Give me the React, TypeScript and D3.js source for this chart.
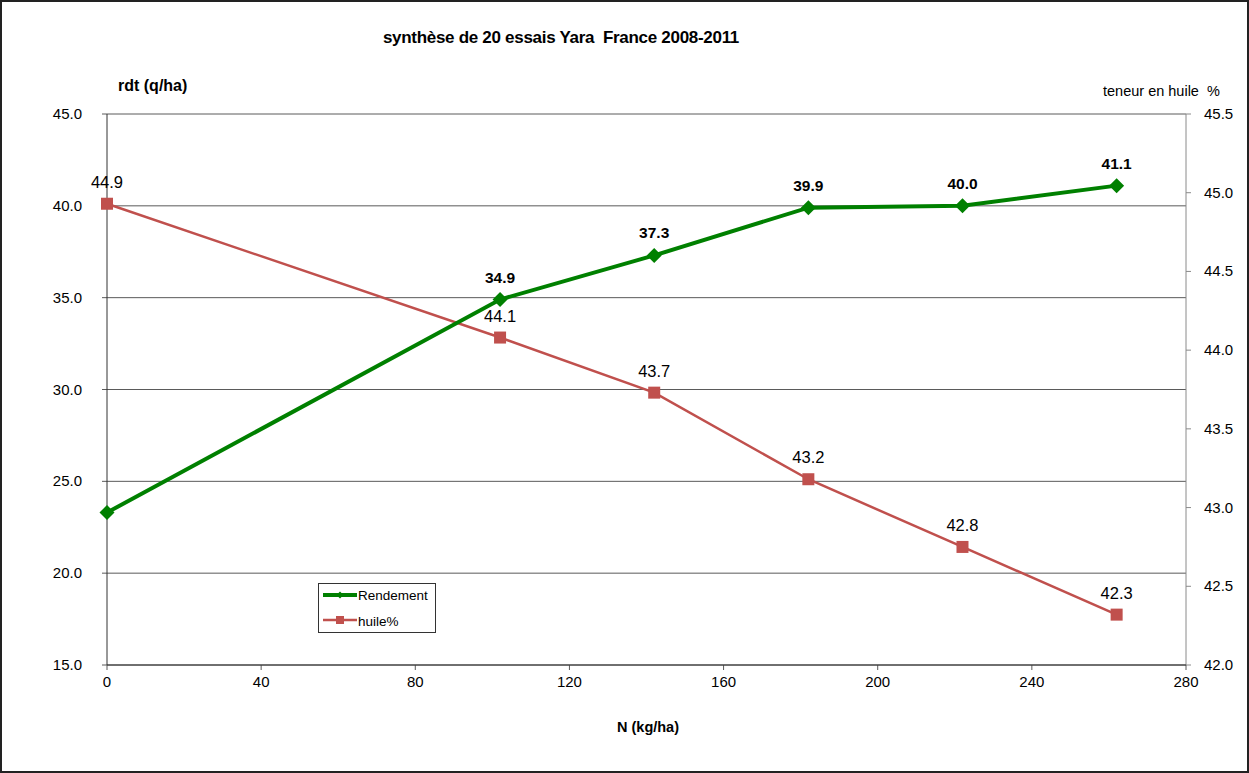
import React from "react";
import * as d3 from "d3";

const nValues = [0, 102, 142, 182, 222, 262];
const rendement = [23.3, 34.9, 37.3, 39.9, 40.0, 41.1];
const rendementLabels = ["", "34.9", "37.3", "39.9", "40.0", "41.1"];
const huile = [44.93, 44.08, 43.73, 43.18, 42.75, 42.32];
const huileLabels = ["44.9", "44.1", "43.7", "43.2", "42.8", "42.3"];
const xTicks = [0, 40, 80, 120, 160, 200, 240, 280];
const yLeftTicks = [15, 20, 25, 30, 35, 40, 45];
const yRightTicks = [42.0, 42.5, 43.0, 43.5, 44.0, 44.5, 45.0, 45.5];

const W = 1249, H = 773;
const L = 107, R = 1186, T = 114, B = 665;
const font = "Liberation Sans, Arial, sans-serif";

export default function App() {
  const x = d3.scaleLinear().domain([0, 280]).range([L, R]);
  const yL = d3.scaleLinear().domain([15, 45]).range([B, T]);
  const yR = d3.scaleLinear().domain([42, 45.5]).range([B, T]);
  const lineG = d3.line<number>().x((_, i) => x(nValues[i])).y((d) => yL(d));
  const lineR = d3.line<number>().x((_, i) => x(nValues[i])).y((d) => yR(d));
  const green = "#008000";
  const red = "#C0504D";
  const pre = { whiteSpace: "pre" as const };
  return (
    <svg width={W} height={H} style={{ position: "absolute", left: 0, top: 0 }} fontFamily={font}>
      <rect x={1} y={1} width={W - 2} height={H - 2} fill="#fff" stroke="#222" strokeWidth={2} />
      {yLeftTicks.map((t) => (
        <g key={"gl" + t}>
          <line x1={L} x2={R} y1={yL(t)} y2={yL(t)} stroke="#5a5a5a" strokeWidth={1} />
          <line x1={L - 5} x2={L} y1={yL(t)} y2={yL(t)} stroke="#5a5a5a" />
          <text x={L - 25} y={yL(t) + 5} textAnchor="end" fontSize={15}>{t.toFixed(1)}</text>
        </g>
      ))}
      {yRightTicks.map((t) => (
        <g key={"gr" + t}>
          <line x1={R} x2={R + 5} y1={yR(t)} y2={yR(t)} stroke="#8a8a8a" />
          <text x={R + 18} y={yR(t) + 5} textAnchor="start" fontSize={15}>{t.toFixed(1)}</text>
        </g>
      ))}
      {xTicks.map((t) => (
        <g key={"x" + t}>
          <line x1={x(t)} x2={x(t)} y1={B} y2={B + 5} stroke="#5a5a5a" />
          <text x={x(t)} y={B + 22} textAnchor="middle" fontSize={15}>{t}</text>
        </g>
      ))}
      <line x1={L} x2={L} y1={T} y2={B} stroke="#333" />
      <line x1={R} x2={R} y1={T} y2={B} stroke="#8a8a8a" />
      <line x1={L} x2={R} y1={B} y2={B} stroke="#333" />

      <path d={lineR(huile) || ""} fill="none" stroke={red} strokeWidth={2.5} />
      {huile.map((v, i) => (
        <rect key={"rs" + i} x={x(nValues[i]) - 6} y={yR(v) - 6} width={12} height={12} fill={red} />
      ))}
      <path d={lineG(rendement) || ""} fill="none" stroke={green} strokeWidth={4} />
      {rendement.map((v, i) => (
        <path key={"gd" + i} d="M0,-7.5L7.5,0L0,7.5L-7.5,0Z" transform={`translate(${x(nValues[i])},${yL(v)})`} fill={green} />
      ))}
      {huile.map((v, i) => (
        <text key={"rl" + i} x={x(nValues[i])} y={yR(v) - 16} textAnchor="middle" fontSize={16.5}>{huileLabels[i]}</text>
      ))}
      {rendement.map((v, i) => (
        <text key={"gl2" + i} x={x(nValues[i])} y={yL(v) - 17} textAnchor="middle" fontSize={15.5} fontWeight="bold">{rendementLabels[i]}</text>
      ))}

      <text x={561} y={43} textAnchor="middle" fontSize={17} fontWeight="bold" style={pre} letterSpacing={-0.3}>synthèse de 20 essais Yara  France 2008-2011</text>
      <text x={118} y={91} fontSize={16} fontWeight="bold">rdt (q/ha)</text>
      <text x={1103} y={96} fontSize={14.5} style={pre}>teneur en huile  %</text>
      <text x={648} y={732} textAnchor="middle" fontSize={14.5} fontWeight="bold">N (kg/ha)</text>

      <rect x={318.5} y={583.5} width={117} height={49} fill="#fff" stroke="#333" />
      <line x1={323} x2={357} y1={595} y2={595} stroke={green} strokeWidth={4} />
      <path d="M0,-3.5L3.5,0L0,3.5L-3.5,0Z" transform="translate(340,595)" fill={green} />
      <text x={358} y={599.5} fontSize={13.5}>Rendement</text>
      <line x1={323} x2={357} y1={620} y2={620} stroke={red} strokeWidth={2.5} />
      <rect x={336} y={616} width={8} height={8} fill={red} />
      <text x={358} y={625.5} fontSize={13.5}>huile%</text>
    </svg>
  );
}
